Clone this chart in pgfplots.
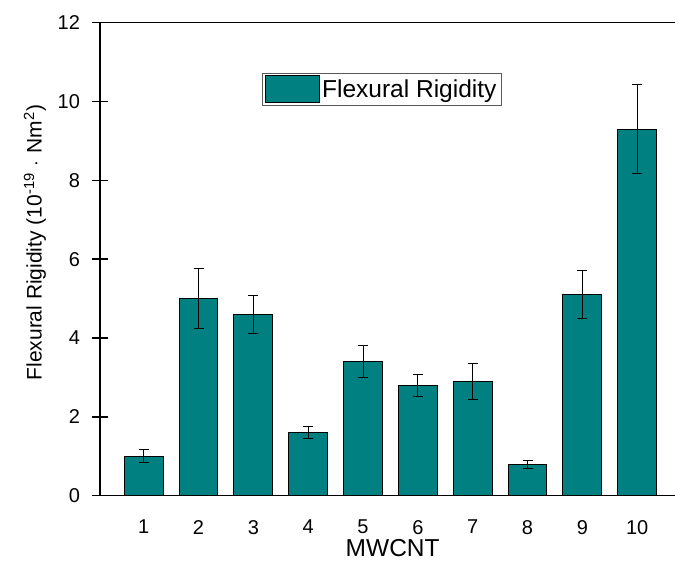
\documentclass[border=0pt]{standalone}
\usepackage{fontspec}
\setmainfont{Liberation Sans}
\usepackage{pgfplots}
\pgfplotsset{compat=1.18}
\definecolor{barteal}{RGB}{0,128,128}
\pgfplotsset{/pgfplots/ybar legend/.style={/pgfplots/legend image code/.code={\draw[##1, line width=1pt] (0pt,-13.5pt) rectangle (54pt,13.5pt);}}}
\begin{document}
\begin{tikzpicture}[x=1pt,y=1pt]
\useasboundingbox (-100,-66.3) rectangle (575,495.7);
\begin{axis}[
  at={(0,0)}, anchor=south west,
  scale only axis=true,
  width=575pt, height=473pt,
  xmin=0.203, xmax=10.69,
  ymin=0, ymax=12,
  axis x line=box, axis y line=left,
  axis line style={-, line width=1.6pt, black},
  xtick={1,2,3,4,5,6,7,8,9,10},
  xtick style={draw=none},
  ytick={0,2,4,6,8,10,12},
  ytick pos=left,
  tick align=center,
  major tick length=17pt,
  ytick style={line width=1.4pt, black},
  /pgf/number format/assume math mode=true,
  tick label style={font=\fontsize{20}{20}\selectfont},
  xticklabel style={yshift=-4pt},
  yticklabel style={xshift=-8pt},
  xlabel={MWCNT},
  ylabel={Flexural Rigidity (10\textsuperscript{-19}\,\,$\cdot$\,\,Nm\textsuperscript{2})},
  every axis x label/.style={at={(axis description cs:0.509,0)}, yshift=-52.5pt, anchor=center, font=\fontsize{24.5}{24.5}\selectfont},
  every axis y label/.style={at={(axis description cs:0,0.535)}, xshift=-65pt, rotate=90, anchor=center, font=\fontsize{21}{21}\selectfont},
  legend style={at={(0.281,0.894)}, anchor=north west, draw=gray!70!black, line width=1.2pt, inner xsep=3pt, inner ysep=2pt, font=\fontsize{24.5}{24.5}\selectfont, cells={anchor=west}},
  ybar, bar width=0.71,
]
\addplot[fill=barteal, draw=black, line width=1pt,
  error bars/.cd, y dir=both, y explicit,
  error bar style={line width=1pt, black},
  error mark options={rotate=90, mark size=5pt, line width=1pt, black}]
  coordinates {
  (1,1.0) +- (0,0.16)
  (2,5.0) +- (0,0.76)
  (3,4.6) +- (0,0.48)
  (4,1.6) +- (0,0.16)
  (5,3.4) +- (0,0.40)
  (6,2.8) +- (0,0.28)
  (7,2.9) +- (0,0.45)
  (8,0.8) +- (0,0.10)
  (9,5.1) +- (0,0.61)
  (10,9.3) +- (0,1.13)
  };
\addlegendentry{Flexural Rigidity}
\end{axis}
\end{tikzpicture}
\end{document}
